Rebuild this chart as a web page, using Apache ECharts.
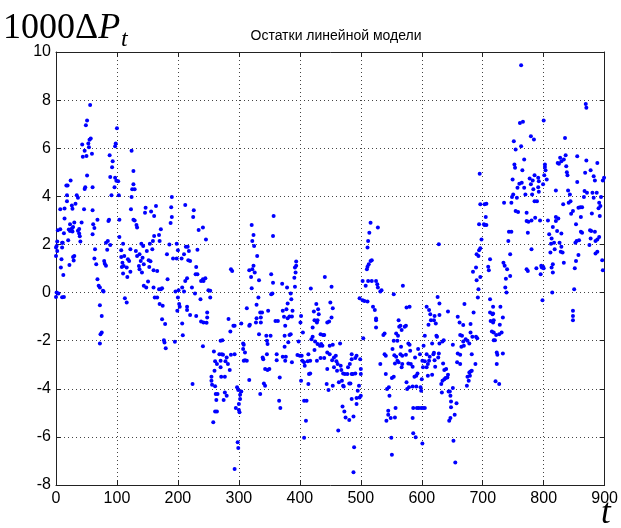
<!DOCTYPE html>
<html>
<head>
<meta charset="utf-8">
<script src="https://cdn.jsdelivr.net/npm/echarts@6/dist/echarts.min.js"></script>
<style>
  html, body { margin: 0; padding: 0; background: #fff; }
  #chart { width: 621px; height: 528px; }
</style>
</head>
<body>
<div id="chart"></div>
<script>
// Residuals of the linear model as [t, 1000*dP_t]
const resid0to183 = [
  [56,7.8],[51,7.15],[49,6.96],[55,6.35],[53,6.2],[57,6.4],[43,6.15],[54,6.04],[47,5.9],[59,5.77],[50,5.68],[44,5.65],
  [51,4.87],[48,4.38],[47,4.3],[60,4.38],[17,4.45],[19,4.45],[24,4.66],[18,4.05],[34,4.05],[36,3.94],[18,3.8],[14,3.49],
  [7,3.46],[26,3.62],[32,3.69],[27,3.48],[46,3.46],[60,3.42],[14,3.08],[3,2.59],[7,2.63],[23,2.84],[30,2.91],[28,2.73],
  [26,2.66],[21,2.62],[23,2.56],[27,2.54],[38,2.64],[42,2.91],[38,2.46],[36,2.57],[39,2.34],[40,2.12],[20,2.17],[13,2.47],
  [10,2.07],[2,2.12],[61,2.84],[63,2.68],[60,2.42],[68,3.03],[87,3.03],[86,2.97],[1,1.94],[0,1.87],[2,1.73],[0,1.52],
  [11,2.07],[10,1.87],[9,1.38],[8,1.04],[12,0.73],[28,1.48],[30,1.52],[22,1.15],[0,-0.18],[4,-0.04],[13,-0.18],[29,1.33],
  [1,0.0],[10,-0.2],[64,1.8],[63,1.42],[66,1.18],[68,0.55],[70,0.28],[72,0.21],[77,0.07],[78,0.04],[72,-0.53],[75,-0.97],
  [75,-1.66],[73,-1.73],[72,-2.12],[79,1.31],[82,1.11],[80,1.2],[82,2.07],[85,2.14],[89,1.98],[84,1.78],[88,5.71],[93,5.46],
  [92,5.21],[89,4.8],[97,4.77],[96,4.38],[99,4.65],[91,4.05],[97,6.08],[98,6.2],[100,6.83],[102,4.63],[103,4.05],[104,3.03],
  [104,2.31],[110,2.03],[107,1.76],[112,1.52],[109,1.24],[108,1.06],[111,1.1],[116,1.04],[118,1.38],[120,1.31],[117,0.65],
  [122,0.87],[113,-0.24],[116,-0.41],[122,1.8],[107,1.48],[110,0.79],[124,5.9],[127,5.05],[125,4.29],[124,3.97],[123,3.46],
  [129,3.0],[132,2.81],[133,2.7],[127,4.5],[129,4.29],[127,3.03],[131,1.73],[133,1.52],[137,1.59],[139,1.31],[136,1.1],
  [142,1.45],[137,0.97],[141,0.83],[144,1.18],[140,2.03],[143,1.94],[147,3.53],[146,3.32],[149,1.73],[152,1.34],[154,2.03],
  [158,1.8],[144,0.28],[148,0.21],[151,0.46],[155,1.3],[153,1.06],[156,3.37],[161,3.18],[164,3.6],[159,2.14],[161,2.35],
  [169,2.39],[172,2.63],[170,2.14],[160,0.93],[166,0.9],[160,0.21],[162,-0.21],[166,-0.21],[169,0.14],[172,0.14],[174,0.18],
  [170,-0.48],[175,-0.55],[174,-1.11],[179,-1.31],[177,-1.98],[178,-2.08],[180,-2.32],[182,1.59],[183,0.55]
];
const resid184to357 = [
  [190,3.97],[189,3.55],[190,3.14],[188,2.89],[212,3.64],[226,3.42],[225,3.14],[234,2.6],[241,2.7],[246,2.21],[186,2.0],
  [198,2.03],[200,1.76],[198,1.42],[192,1.42],[213,1.9],[216,1.9],[218,1.73],[217,1.34],[210,1.59],[206,1.42],[220,1.31],
  [230,1.06],[229,0.76],[232,0.76],[232,1.78],[238,0.48],[241,0.55],[245,0.59],[242,0.48],[250,0.1],[253,0.07],[253,-0.21],
  [237,-0.28],[228,-0.04],[223,0.21],[215,0.59],[212,0.48],[210,0.04],[207,0.21],[201,0.1],[200,-0.21],[196,0.04],[202,-0.48],
  [203,-0.59],[199,-0.76],[215,-0.59],[215,-0.73],[220,-0.93],[230,-0.97],[238,-1.2],[242,-1.24],[247,-1.26],[248,-0.83],
  [248,-1.04],[207,-1.29],[208,-1.77],[195,-2.05],[241,-2.23],[224,-3.8],
  [259,-2.45],[270,-2.0],[273,-1.98],[268,-2.56],[272,-2.56],[274,-2.59],[270,-2.84],[280,-2.7],[287,-2.59],[293,-2.56],
  [283,-1.1],[291,-1.38],[293,-1.38],[286,-1.62],[270,-3.11],[261,-2.86],[260,-3.25],[264,-2.97],[278,-2.86],[282,-2.97],
  [285,-3.22],[277,-3.5],[271,-3.5],[255,-3.5],[255,-3.67],[256,-3.83],[261,-3.89],[262,-4.22],[265,-4.22],[277,-4.15],
  [280,-4.29],[275,-4.47],[263,-4.47],[261,-4.94],[264,-4.94],[258,-5.39],[297,-3.94],[299,-4.05],[304,-4.11],[302,-4.25],
  [302,-4.43],[295,-4.8],[300,-4.63],[300,-4.88],[301,-4.98],[298,-6.22],[299,-6.46],[293,-7.33],
  [287,0.97],[289,0.9],[304,-1.29],[313,-0.65],[317,-1.38],[318,-1.34],[307,-2.12],[308,-2.17],[307,-2.35],[310,-2.49],
  [308,-2.84],[310,-2.81],[313,-2.84],[317,-3.64],[321,2.81],[324,2.39],[322,2.14],[325,1.94],[330,1.52],[317,0.93],
  [320,0.65],[322,0.97],[324,1.11],[326,0.83],[321,0.18],[333,0.51],[332,-0.21],[329,-0.51],[335,-0.83],[338,-0.83],
  [329,-1.07],[336,-1.04],[328,-1.24],[336,-1.24],[333,-1.73],[348,-0.76],[345,-1.8],[352,-1.8],[346,-2.0],[347,-2.14],
  [339,-2.7],[340,-2.77],[346,-2.56],[343,-3.18],[347,-3.22],[350,-3.18],[341,-3.78],[343,-3.87],[335,-4.22],[353,0.76],
  [353,-0.07],[355,-0.04],[356,2.35],[357,3.18]
];
const resid356to545 = [
  [356,0.41],[360,-1.18],[364,-1.18],[362,-2.56],[362,-2.81],[367,-3.53],[366,-4.5],[368,-4.8],[372,-2.67],[375,-2.25],
  [376,-2.84],[381,-2.07],[383,-1.76],[372,-0.76],[374,-1.01],[376,-1.38],[375,-1.8],[380,-1.07],[380,-0.46],[383,-1.0],
  [378,-0.69],[371,0.37],[379,0.21],[386,-0.28],[385,-0.04],[388,-0.76],[387,-1.0],[392,0.24],[391,0.62],[392,1.04],
  [394,1.11],[393,0.83],[394,1.29],[385,-1.73],[377,-2.67],[387,-2.9],[396,-2.6],[398,-2.03],[401,-1.24],[402,-0.97],
  [405,-1.66],[400,-2.63],[403,-2.63],[404,-2.84],[407,-2.9],[413,-2.86],[417,-2.84],[402,-3.67],[414,-3.8],[417,-3.36],
  [415,-3.39],[408,-3.04],[407,-4.5],[411,-4.5],[410,-5.33],[407,-6.04],[418,0.17],[423,-0.79],[427,-0.48],[430,-0.69],
  [431,-0.9],[429,-1.15],[428,-1.24],[424,-1.15],[421,-1.45],[419,-1.94],[434,-1.73],[438,-1.76],[440,-1.76],[441,0.65],
  [452,0.24],[450,-0.41],[454,-0.65],[452,-1.04],[448,-1.2],[445,-1.24],[433,-2.21],[435,-2.14],[437,-2.21],[429,-2.14],
  [425,-2.03],[421,-1.84],[424,-2.39],[414,-2.56],[428,-2.84],[434,-2.72],[440,-2.72],[445,-2.49],[449,-2.21],[454,-2.17],
  [449,-2.56],[456,-2.7],[459,-2.63],[453,-2.81],[460,-2.86],[462,-2.97],[466,-2.12],[445,-3.18],[456,-3.11],[461,-3.25],
  [467,-3.04],[468,-3.22],[471,-3.36],[474,-3.39],[478,-3.39],[485,-3.39],[487,-3.39],[491,-3.36],[479,-3.11],[482,-2.97],
  [485,-2.77],[491,-2.72],[493,-2.63],[499,-2.77],[500,-3.18],[500,-3.39],[485,-2.56],[469,-3.67],[464,-3.73],[447,-4.05],
  [444,-3.8],[454,-3.87],[471,-3.87],[481,-3.78],[483,-3.78],[470,-4.74],[473,-4.94],[475,-5.19],[472,-3.91],[485,-4.43],
  [493,-4.38],[495,-4.08],[497,-3.87],[498,-4.36],[500,-4.29],[493,-4.63],[488,-5.15],[481,-5.3],[463,-5.73],[489,-6.43],
  [488,-7.47],
  [511,1.87],[512,2.14],[516,2.9],[528,2.7],[514,2.49],[510,0.97],[511,1.07],[513,1.18],[516,1.31],[518,1.34],[503,0.48],
  [508,0.28],[512,0.48],[518,0.48],[525,0.48],[527,0.35],[528,0.21],[532,0.04],[534,0.1],[498,-0.24],[503,-0.32],
  [506,-0.35],[511,-0.37],[520,-0.59],[523,-0.73],[525,-1.08],[525,-1.15],[525,-1.45],[537,-1.76],[539,-1.7],[504,-1.9],
  [539,-2.56],[541,-2.63],[532,-2.97],[541,-3.39],[545,-4.91]
];
const resid542to718 = [
  [543,-4.01],[546,-3.94],[547,-4.29],[545,-5.08],[542,-5.33],[549,-5.21],[557,-4.8],[556,-5.19],[550,-6.04],[551,-6.74],
  [552,-2.35],[554,-2.0],[551,-3.55],[555,-2.61],[556,-2.95],[558,-1.7],[561,-1.8],[563,-1.42],[562,-1.15],[565,-1.38],
  [567,-1.56],[572,-1.42],[574,-1.38],[575,-0.62],[580,-0.59],[569,0.28],[554,-0.07],[560,-2.0],[566,-2.25],[565,-2.56],
  [568,-2.63],[560,-2.84],[562,-2.9],[568,-2.97],[567,-3.11],[558,-2.67],[554,-3.5],[578,-2.12],[580,-2.17],[581,-2.42],
  [574,-2.59],[578,-2.95],[582,-2.97],[585,-3.08],[589,-2.7],[594,-2.35],[597,-2.56],[588,-3.5],[591,-3.46],[593,-3.36],
  [575,-3.73],[576,-4.01],[579,-3.94],[585,-3.91],[591,-3.91],[598,-3.94],[599,-4.08],[586,-4.8],[592,-4.8],[595,-4.8],
  [599,-4.8],[602,-4.8],[605,-4.8],[585,-5.21],[586,-5.85],[590,-6.02],[601,-6.27],[600,-3.6],[602,-3.11],[601,-2.84],
  [608,-2.56],[605,-2.86],[608,-3.11],[610,-2.97],[612,-2.84],[613,-2.67],[619,-2.56],[620,-2.5],[621,-2.81],[622,-3.08],
  [617,-3.42],[610,-3.46],[605,-1.8],[603,-2.21],[617,-2.12],[624,-1.8],[625,-1.84],[627,-2.7],[628,-2.53],[629,-2.12],
  [634,-2.03],[636,-1.98],[635,-2.95],[637,-3.22],[640,-3.18],[642,-3.53],[639,-3.55],[643,-3.42],[637,-3.6],[632,-3.8],
  [634,-3.67],[633,-4.15],[644,-4.11],[646,-4.11],[651,-3.97],[647,-4.29],[648,-4.53],[648,-4.77],[657,-4.6],[654,-5.08],
  [647,-5.21],[645,-5.33],[652,-6.16],[655,-7.06],[608,-0.59],[612,-0.73],[614,-0.9],[615,-1.15],[620,-1.15],[623,-1.29],
  [621,-0.97],[611,-1.34],[626,-0.18],[629,-0.46],[629,-0.93],[628,2.01],[643,-0.79],[651,-2.17],[659,-1.01],[662,-1.24],
  [659,-2.53],[658,-2.9],[663,-2.59],[663,-1.76],[666,-1.8],[665,-2.25],[669,-2.21],[668,-2.03],[672,-1.94],[675,-2.0],
  [678,-2.12],[680,-1.66],[683,-1.84],[689,-1.84],[691,-1.9],[670,-0.48],[668,-1.35],[663,-2.97],[674,-3.87],[677,-3.67],
  [678,-3.32],[679,-3.46],[680,-3.28],[682,-3.25],[682,-2.56],[688,-2.97],[675,-3.5],[680,-1.31],[685,-0.83],[684,0.87],
  [689,1.04],[690,0.51],[692,-0.21],[693,0.14],[690,1.59],[693,1.52],[694,1.76],[696,1.84],[698,2.21],[696,0.65],
  [702,2.84],[703,2.81],[706,2.81],[705,3.14],[703,3.67],[706,3.69],[694,2.84],[696,3.67],[695,4.94],[712,1.38],
  [710,0.93],[709,1.07],[712,-0.28],[712,-0.83],[713,-1.18],[715,-1.62],[716,-0.9],[718,-1.15],[717,-0.59],[718,-1.98]
];
const resid717to900 = [
  [717,-0.87],[717,-1.24],[718,-1.66],[722,-1.76],[727,-1.73],[731,-1.66],[720,-1.98],[733,-1.04],[728,-1.34],[729,-0.59],
  [723,-2.49],[724,-2.59],[723,-2.97],[733,-2.53],[721,-3.69],[727,-3.8],
  [734,1.24],[736,1.11],[740,0.97],[745,0.69],[738,0.57],[737,0.21],[739,0.0],[745,1.59],[742,2.14],[743,2.53],[747,2.53],
  [735,3.73],[747,3.73],[748,3.97],[750,4.08],[749,4.7],[753,5.19],[752,5.32],[751,6.29],[754,5.95],[757,4.36],[756,3.94],
  [754,3.39],[758,3.35],[761,7.05],[766,7.1],[763,9.45],[760,4.52],[763,6.08],[765,5.08],[764,4.56],[768,4.36],[768,5.53],
  [770,4.08],[772,3.32],[772,2.97],[775,2.94],[774,2.49],[777,4.74],[779,4.5],[781,4.08],[782,4.66],[785,4.88],[783,4.29],
  [785,3.8],[789,3.8],[786,3.11],[780,3.0],[779,6.5],[784,6.36],[792,4.63],[791,4.38],[792,4.19],[791,4.77],[772,0.97],
  [774,0.9],[780,1.8],[794,3.0],[788,1.01],[796,1.11],[797,1.04],[795,0.76],[799,1.07],[800,1.01],[798,-0.32],[800,7.15],
  [802,5.32],[803,5.08],[802,5.22],[801,4.88],[799,4.5],[805,4.7],[807,3.0],[809,2.42],[813,2.25],[817,2.07],[812,2.03],
  [811,1.66],[815,2.73],[820,2.97],[824,3.08],[822,2.56],[829,2.45],[826,2.07],[828,1.7],[831,1.67],[829,1.9],[818,1.8],
  [815,1.18],[813,1.04],[815,0.83],[814,0.0],[833,1.24],[820,3.14],[820,4.24],[832,3.67],[840,4.24],[843,4.08],[844,3.8],
  [845,3.28],[848,3.39],[841,3.73],[838,5.0],[839,4.88],[837,5.25],[833,5.53],[827,5.6],[829,5.46],[823,5.39],[825,5.35],
  [836,5.71],[835,6.43],[853,2.84],[857,3.53],[855,4.6],[861,3.14],[860,3.55],[863,3.55],[854,2.14],[852,2.07],[858,2.17],
  [861,2.53],[863,2.49],[857,1.56],[853,1.31],[851,1.01],[850,0.14],[848,-0.76],[848,-0.97],[848,-1.15],[855,5.67],
  [868,4.98],[870,5.49],[867,4.22],[871,4.15],[866,3.97],[869,7.84],[870,7.68],[876,2.59],[878,2.56],[877,2.25],[875,1.98],
  [879,3.29],[882,3.94],[880,4.15],[882,4.84],[884,4.66],[877,5.08],[888,5.39],[884,2.53],[885,2.14],[888,2.21],[891,2.31],
  [890,3.5],[893,3.6],[894,3.97],[892,3.18],[885,1.62],[888,1.7],[896,1.34],[897,0.93],[897,4.66],[899,4.77],[887,4.15],
  [891,3.73]
];

const xTicks = { min: 0, max: 900, step: 100 };
const yTicks = { min: -8, max: 10, step: 2 };

const points = [].concat(resid0to183, resid184to357, resid356to545, resid542to718, resid717to900);

const chart = echarts.init(document.getElementById('chart'), null, { renderer: 'canvas' });

const tickFont = { fontFamily: 'Liberation Sans', fontSize: 16, color: '#000' };
const gridLine = { show: true, lineStyle: { color: '#444', type: [1, 3], width: 1 } };
const frame = { show: true, onZero: false, lineStyle: { color: '#222', width: 1 } };
const inTicks = { show: true, inside: true, length: 5, lineStyle: { color: '#222' } };

chart.setOption({
  animation: false,
  backgroundColor: '#fff',
  title: {
    text: 'Остатки линейной модели',
    left: 331, top: 24, textAlign: 'center',
    textStyle: { fontFamily: 'Liberation Sans', fontSize: 14, fontWeight: 'normal', color: '#000' }
  },
  grid: { left: 56, right: 14, top: 52, bottom: 43 },
  xAxis: [
    {
      type: 'value', min: xTicks.min, max: xTicks.max, interval: xTicks.step,
      axisLine: frame, axisTick: inTicks, splitLine: gridLine,
      axisLabel: Object.assign({ margin: 6 }, tickFont)
    },
    {
      type: 'value', position: 'top', min: xTicks.min, max: xTicks.max, interval: xTicks.step,
      axisLine: frame, axisTick: inTicks, splitLine: { show: false }, axisLabel: { show: false }
    }
  ],
  yAxis: [
    {
      type: 'value', min: yTicks.min, max: yTicks.max, interval: yTicks.step,
      axisLine: frame, axisTick: inTicks, splitLine: gridLine,
      axisLabel: Object.assign({ margin: 5 }, tickFont)
    },
    {
      type: 'value', position: 'right', min: yTicks.min, max: yTicks.max, interval: yTicks.step,
      axisLine: frame, axisTick: inTicks, splitLine: { show: false }, axisLabel: { show: false }
    }
  ],
  series: [{
    type: 'scatter',
    data: points,
    symbol: 'circle',
    symbolSize: 4,
    itemStyle: { color: '#0000ff', opacity: 1 },
    silent: true
  }],
  graphic: [
    {
      type: 'text', left: 3, top: 11,
      style: {
        text: '{a|1000Δ}{b|P}',
        rich: {
          a: { fontFamily: 'Liberation Serif', fontSize: 36, fill: '#000' },
          b: { fontFamily: 'Liberation Serif', fontSize: 36, fontStyle: 'italic', fill: '#000' }
        }
      }
    },
    {
      type: 'text', left: 121, top: 28,
      style: { text: 't', font: 'italic 24px "Liberation Serif"', fill: '#000' }
    },
    {
      type: 'text', left: 601, top: 496,
      style: { text: 't', font: 'italic 35px "Liberation Serif"', fill: '#000' }
    }
  ]
});
</script>
</body>
</html>
